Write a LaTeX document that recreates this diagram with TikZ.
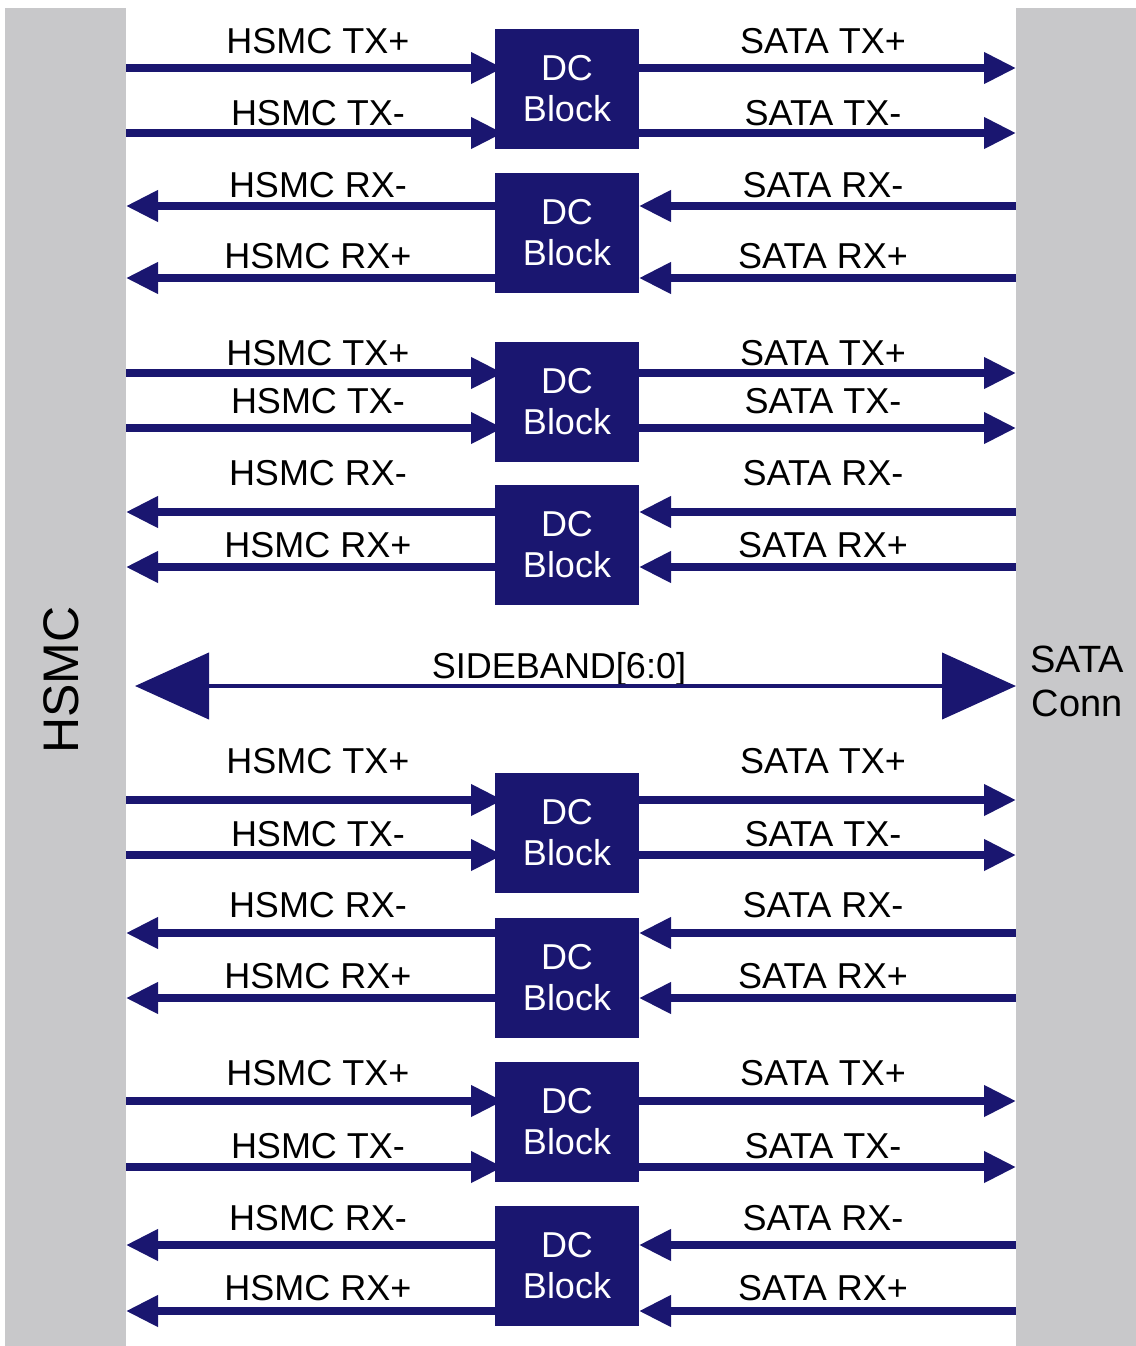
\documentclass[tikz,border=0pt]{standalone}
\usepackage{fontspec}
\setmainfont{Liberation Sans}
\usetikzlibrary{arrows.meta,positioning,backgrounds}
\definecolor{navy}{RGB}{26,22,112}
\definecolor{bargray}{RGB}{200,200,202}

\begin{document}
\begin{tikzpicture}[x=0.5pt,y=-0.5pt,
   bar/.style={fill=bargray,inner sep=0pt,outer sep=0pt,minimum width=60.5pt,minimum height=669pt},
   dcblock/.style={fill=navy,text=white,inner sep=0pt,outer sep=0pt,minimum width=72pt,minimum height=60pt,align=center,font=\fontsize{18pt}{20.5pt}\selectfont},
   lbl/.style={anchor=base,inner sep=0pt,font=\fontsize{18pt}{21pt}\selectfont},
   sig/.style={draw=navy,line width=3.6pt,-{Triangle[length=16pt,width=15pt]}},
   sband/.style={draw=navy,line width=2.2pt,{Triangle[length=37pt,width=33pt]}-{Triangle[length=37pt,width=33pt]}}]
   \useasboundingbox (0,0) rectangle (1136,1346);
   % connector sides
   \node[bar] (hsmc) at (65.5,677) {};
   \node[bar,minimum width=60pt] (sata) at (1076,677) {};
   \node[rotate=90,font=\fontsize{25pt}{25pt}\selectfont] (hsmclbl) at (61,680) {HSMC};
   \node[align=center,font=\fontsize{19pt}{22pt}\selectfont] (satalbl) at (1077,681) {SATA\\Conn};
   % lanes: block / line y / label baseline / signal names
   \foreach \n/\yc/\ya/\yb/\ba/\bb/\la/\lb in {
      1/89/68/133/53/125/TX+/TX-,
      2/233/206/278/197/268/RX-/RX+,
      3/401.5/373/428/365/413/TX+/TX-,
      4/545/512/567/485/557/RX-/RX+,
      5/833/800/855/773/846/TX+/TX-,
      6/977.5/933/998/917/988/RX-/RX+,
      7/1121.5/1101/1167/1085/1158/TX+/TX-,
      8/1266/1245/1311/1230/1300/RX-/RX+}{
     \node[dcblock] (b\n) at (567,\yc) {DC\\Block};
     \coordinate (ya\n) at (0,\ya);
     \coordinate (yb\n) at (0,\yb);
     \node[lbl] (lh\n-a) at (318,\ba) {HSMC \la};
     \node[lbl] (lh\n-b) at (318,\bb) {HSMC \lb};
     \node[lbl] (ls\n-a) at (823,\ba) {SATA \la};
     \node[lbl] (ls\n-b) at (823,\bb) {SATA \lb};
     \begin{scope}[on background layer]
       \ifodd\n
         \draw[sig,shorten >=-4pt] (hsmc.east |- ya\n) -- (b\n.west |- ya\n);
         \draw[sig,shorten >=-4pt] (hsmc.east |- yb\n) -- (b\n.west |- yb\n);
         \draw[sig] (b\n.east |- ya\n) -- (sata.west |- ya\n);
         \draw[sig] (b\n.east |- yb\n) -- (sata.west |- yb\n);
       \else
         \draw[sig] (sata.west |- ya\n) -- (b\n.east |- ya\n);
         \draw[sig] (sata.west |- yb\n) -- (b\n.east |- yb\n);
         \draw[sig] (b\n.west |- ya\n) -- (hsmc.east |- ya\n);
         \draw[sig] (b\n.west |- yb\n) -- (hsmc.east |- yb\n);
       \fi
     \end{scope}
   }
   % sideband bus
   \coordinate (sby) at (0,686);
   \node[lbl] (sblbl) at (559,678) {SIDEBAND[6:0]};
   \draw[sband,shorten <=4.5pt] (hsmc.east |- sby) -- (sata.west |- sby);
\end{tikzpicture}
\end{document}
